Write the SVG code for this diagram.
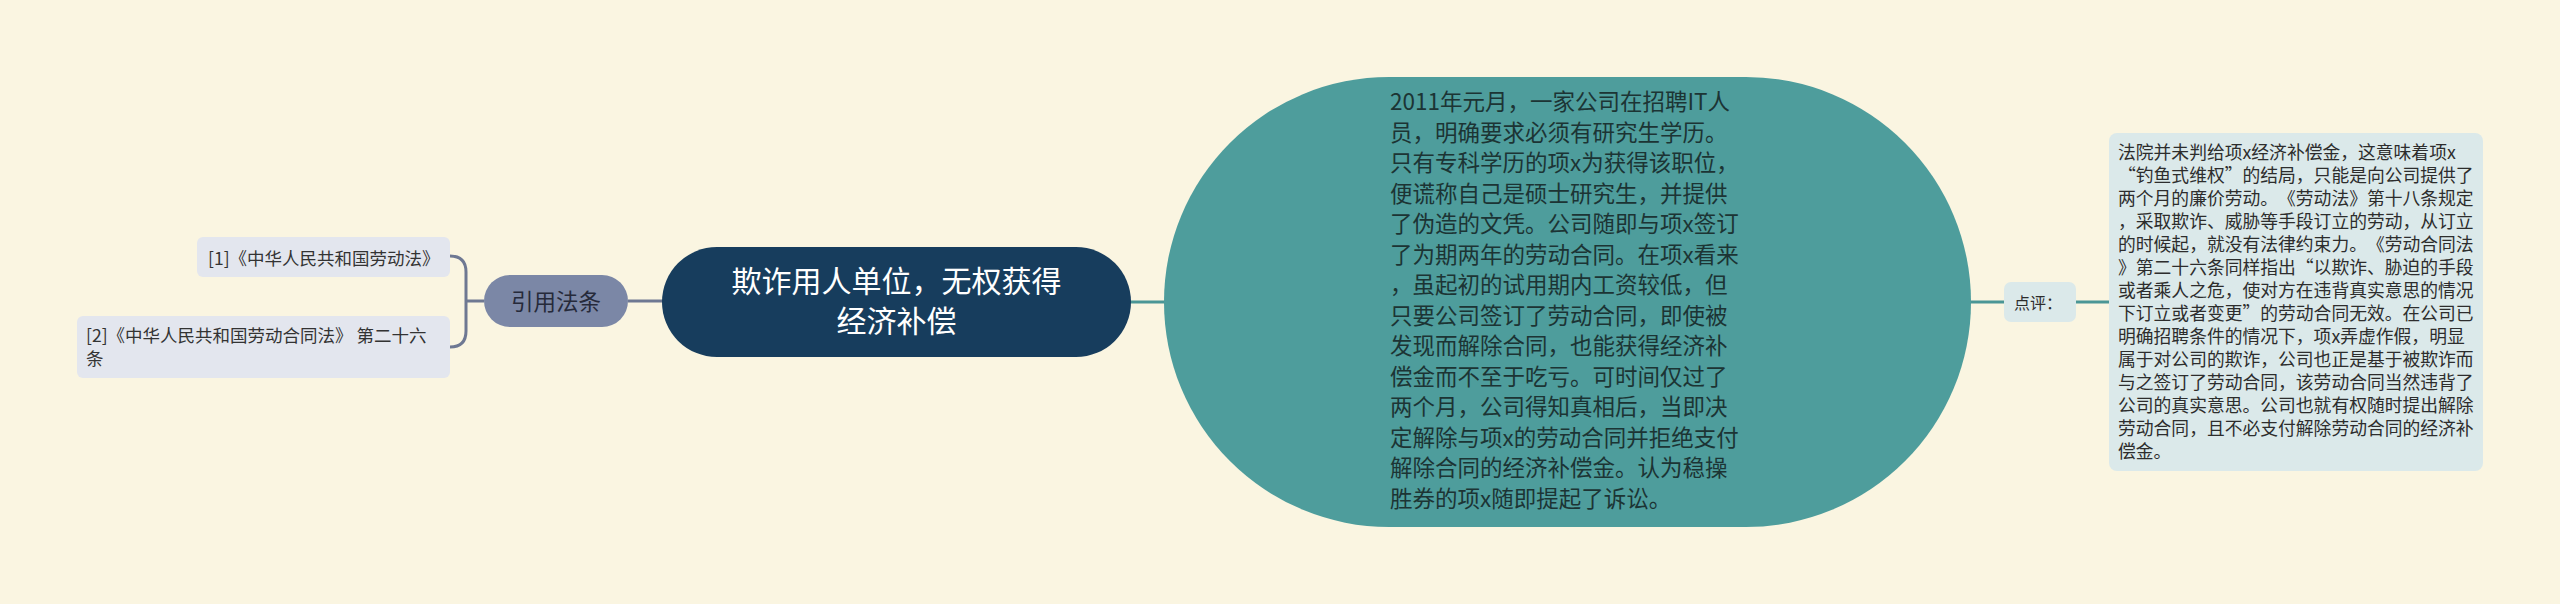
<svg xmlns="http://www.w3.org/2000/svg" width="2560" height="604" viewBox="0 0 2560 604">
<style>
text{font-family:"Noto Sans CJK SC","Noto Sans",sans-serif;text-spacing-trim:space-all}
.leaf{fill:#e3e6ee}
.leaft{font-size:17.5px;fill:#333}
.conL{fill:none;stroke:#6e7892;stroke-width:3}
.conR{fill:none;stroke:#4a9696;stroke-width:3}
.tealt{font-size:22.5px;fill:#1c3434}
.cmt{font-size:17.8px;fill:#2d2d2d}
</style>
<rect width="2560" height="604" fill="#faf5e1"/>
<g id="connectors">
<path class="conL" d="M484,301 L466,301 M450,256 Q466,256 466,272 L466,331 Q466,347 450,347"/>
<path class="conL" d="M628,301 L663,301"/>
<path class="conR" d="M1130,302 L1166,302"/>
<path class="conR" d="M1970,302 L2005,302"/>
<path class="conR" d="M2075,302 L2110,302"/>
</g>
<g id="leaf1">
<rect class="leaf" x="197" y="237" width="253" height="40" rx="6"/>
<text class="leaft" x="208" y="265">[1]《中华人民共和国劳动法》</text>
</g>
<g id="leaf2">
<rect class="leaf" x="77" y="316" width="373" height="62" rx="6"/>
<text class="leaft" x="86" y="342">[2]《中华人民共和国劳动合同法》 第二十六</text>
<text class="leaft" x="86" y="365">条</text>
</g>
<g id="cite">
<rect x="484" y="275" width="144" height="52" rx="26" fill="#7b87a6"/>
<text x="556" y="310" text-anchor="middle" font-size="22.5" fill="#262a3a">引用法条</text>
</g>
<g id="main">
<rect x="662" y="247" width="469" height="110" rx="55" fill="#173d5d"/>
<text x="896.5" y="292" text-anchor="middle" font-size="30" fill="#ffffff">欺诈用人单位，无权获得</text>
<text x="896.5" y="332" text-anchor="middle" font-size="30" fill="#ffffff">经济补偿</text>
</g>
<g id="case">
<rect x="1164" y="77" width="807" height="450" rx="225" fill="#4e9d9c"/>
<text class="tealt" x="1390" y="110">2011年元月，一家公司在招聘IT人</text>
<text class="tealt" x="1390" y="140.5">员，明确要求必须有研究生学历。</text>
<text class="tealt" x="1390" y="171">只有专科学历的项x为获得该职位，</text>
<text class="tealt" x="1390" y="201.5">便谎称自己是硕士研究生，并提供</text>
<text class="tealt" x="1390" y="232">了伪造的文凭。公司随即与项x签订</text>
<text class="tealt" x="1390" y="262.5">了为期两年的劳动合同。在项x看来</text>
<text class="tealt" x="1390" y="293">，虽起初的试用期内工资较低，但</text>
<text class="tealt" x="1390" y="323.5">只要公司签订了劳动合同，即使被</text>
<text class="tealt" x="1390" y="354">发现而解除合同，也能获得经济补</text>
<text class="tealt" x="1390" y="384.5">偿金而不至于吃亏。可时间仅过了</text>
<text class="tealt" x="1390" y="415">两个月，公司得知真相后，当即决</text>
<text class="tealt" x="1390" y="445.5">定解除与项x的劳动合同并拒绝支付</text>
<text class="tealt" x="1390" y="476">解除合同的经济补偿金。认为稳操</text>
<text class="tealt" x="1390" y="506.5">胜券的项x随即提起了诉讼。</text>
</g>
<g id="review">
<rect x="2004" y="282" width="72" height="40" rx="7" fill="#dbe9ea"/>
<text x="2014" y="309" font-size="16" fill="#2d2d2d">点评：</text>
</g>
<g id="comment">
<rect x="2109" y="133" width="374" height="338" rx="8" fill="#dbe9ea"/>
<text class="cmt" x="2118" y="159">法院并未判给项x经济补偿金，这意味着项x</text>
<text class="cmt" x="2118" y="182">“钓鱼式维权”的结局，只能是向公司提供了</text>
<text class="cmt" x="2118" y="205">两个月的廉价劳动。《劳动法》第十八条规定</text>
<text class="cmt" x="2118" y="228">，采取欺诈、威胁等手段订立的劳动，从订立</text>
<text class="cmt" x="2118" y="251">的时候起，就没有法律约束力。《劳动合同法</text>
<text class="cmt" x="2118" y="274">》第二十六条同样指出“以欺诈、胁迫的手段</text>
<text class="cmt" x="2118" y="297">或者乘人之危，使对方在违背真实意思的情况</text>
<text class="cmt" x="2118" y="320">下订立或者变更”的劳动合同无效。在公司已</text>
<text class="cmt" x="2118" y="343">明确招聘条件的情况下，项x弄虚作假，明显</text>
<text class="cmt" x="2118" y="366">属于对公司的欺诈，公司也正是基于被欺诈而</text>
<text class="cmt" x="2118" y="389">与之签订了劳动合同，该劳动合同当然违背了</text>
<text class="cmt" x="2118" y="412">公司的真实意思。公司也就有权随时提出解除</text>
<text class="cmt" x="2118" y="435">劳动合同，且不必支付解除劳动合同的经济补</text>
<text class="cmt" x="2118" y="458">偿金。</text>
</g>
</svg>
